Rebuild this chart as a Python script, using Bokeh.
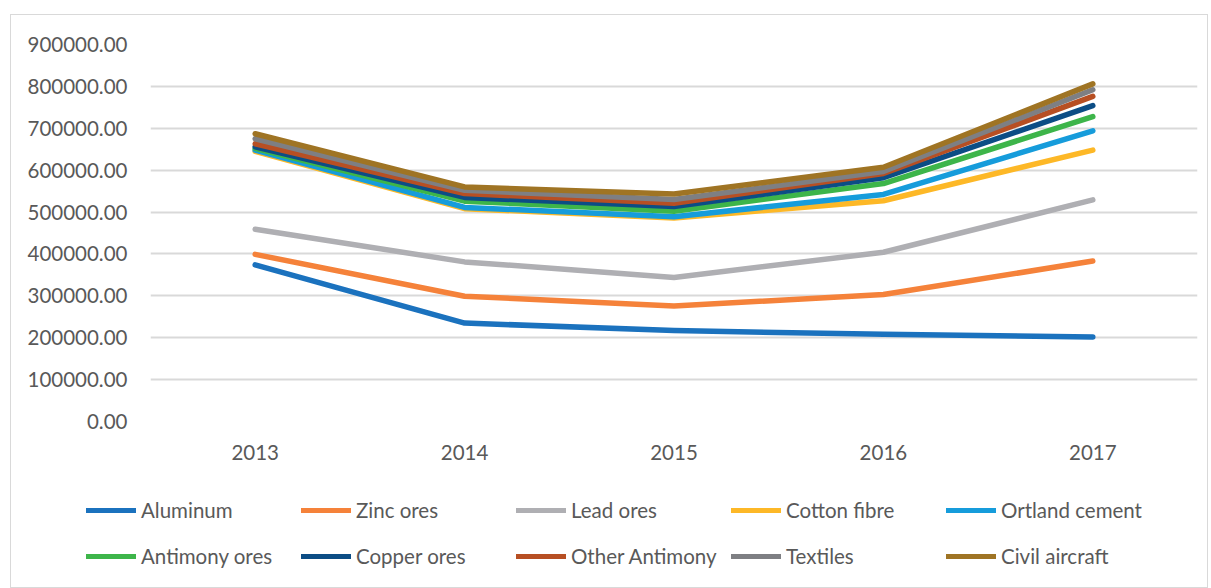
from bokeh.plotting import figure
from bokeh.layouts import column
from bokeh.models import (Range1d, FixedTicker, NumeralTickFormatter, Legend, LegendItem)
from bokeh.embed import file_html
from bokeh.resources import INLINE

years = ["2013", "2014", "2015", "2016", "2017"]
series_names = ["Aluminum", "Zinc ores", "Lead ores", "Cotton fibre", "Ortland cement",
                "Antimony ores", "Copper ores", "Other Antimony", "Textiles", "Civil aircraft"]

aluminum       = [374000, 235000, 217000, 208000, 202000]
zinc_ores      = [399000, 299000, 276000, 303000, 383000]
lead_ores      = [459000, 381000, 344000, 404000, 529000]
cotton_fibre   = [645000, 508000, 486000, 527000, 648000]
ortland_cement = [648000, 511000, 489000, 542000, 694000]
antimony_ores  = [652000, 526000, 502000, 568000, 728000]
copper_ores    = [656000, 535000, 513000, 582000, 754000]
other_antimony = [663000, 544000, 521000, 592000, 776000]
textiles       = [675000, 552000, 530000, 597000, 792000]
civil_aircraft = [687000, 560000, 543000, 607000, 806000]

series_values = [aluminum, zinc_ores, lead_ores, cotton_fibre, ortland_cement,
                 antimony_ores, copper_ores, other_antimony, textiles, civil_aircraft]
colors = ["#1B72BE", "#F5823A", "#AFAFB3", "#FDB827", "#169CDB",
          "#3DB54A", "#0C4D85", "#B74F23", "#7E7F83", "#9F7424"]

y_ticks = [0, 100000, 200000, 300000, 400000, 500000, 600000, 700000, 800000, 900000]

FONT = "Lato"
TXT = "#595959"

p = figure(width=1196, height=466, output_backend="svg", toolbar_location=None,
           x_range=Range1d(-0.5, 4.5), y_range=Range1d(0, 900000),
           min_border_left=139, min_border_right=10, min_border_top=29, min_border_bottom=60)
p.outline_line_color = None
p.background_fill_color = "white"
p.border_fill_color = "white"
p.frame_align = False

xs = list(range(len(years)))
for name, vals, c in zip(series_names, series_values, colors):
    p.line(xs, vals, line_color=c, line_width=5.5, line_cap="round", line_join="round")

p.xaxis.ticker = FixedTicker(ticks=xs)
p.xaxis.major_label_overrides = {i: y for i, y in enumerate(years)}
p.yaxis.ticker = FixedTicker(ticks=y_ticks)
p.yaxis.formatter = NumeralTickFormatter(format="0.00")

for ax in (p.xaxis, p.yaxis):
    ax.axis_line_color = None
    ax.major_tick_line_color = None
    ax.minor_tick_line_color = None
    ax.major_tick_out = 0
    ax.major_tick_in = 0
    ax.major_label_text_font = FONT
    ax.major_label_text_font_size = "20.5px"
    ax.major_label_text_color = TXT
p.yaxis.major_label_standoff = 23
p.xaxis.major_label_standoff = 23

p.xgrid.grid_line_color = None
p.ygrid.ticker = FixedTicker(ticks=y_ticks)
p.ygrid.grid_line_color = "#D9D9D9"
p.ygrid.grid_line_width = 2

# legend strip (its lines lie outside its own range; only the legend shows)
pl = figure(width=1196, height=106, output_backend="svg", toolbar_location=None,
            x_axis_type=None, y_axis_type=None,
            x_range=Range1d(0, 1), y_range=Range1d(0, 1),
            min_border_left=0, min_border_right=0, min_border_top=0, min_border_bottom=0)
pl.frame_align = False
pl.outline_line_color = None
pl.grid.visible = False
pl.border_fill_color = "white"
pl.background_fill_color = "white"
legend_renderers = []
for name, vals, c in zip(series_names, series_values, colors):
    r = pl.line(xs, vals, line_color=c, line_width=5, line_cap="round")
    legend_renderers.append(r)

items = [LegendItem(label=n, renderers=[r]) for n, r in zip(series_names, legend_renderers)]
legend = Legend(items=items, orientation="horizontal", ncols=5,
                location=(75, 11), padding=0, margin=0, spacing=6,
                glyph_width=50, glyph_height=40, label_height=40, label_width=154,
                label_standoff=5, border_line_color=None, background_fill_alpha=0,
                label_text_font=FONT, label_text_font_size="20.5px", label_text_color=TXT)
pl.add_layout(legend, "center")

layout = column(p, pl, spacing=0,
                styles={"border": "1px solid #D9D9D9", "margin-left": "10px", "margin-top": "14px"})

open("out.html", "w").write(file_html(layout, INLINE))
